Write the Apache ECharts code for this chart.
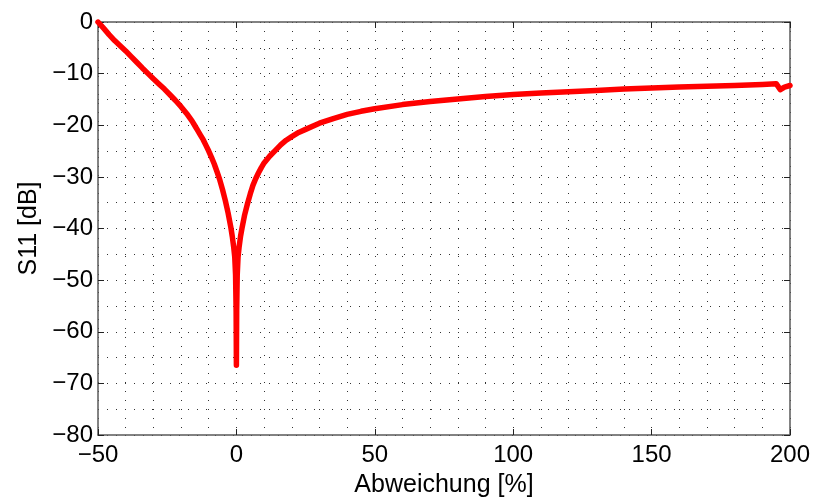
<!DOCTYPE html>
<html>
<head>
<meta charset="utf-8">
<script src="https://cdn.jsdelivr.net/npm/echarts@6/dist/echarts.min.js"></script>
<style>
html,body{margin:0;padding:0;background:#fff;}
#chart{width:814px;height:503px;}
</style>
</head>
<body>
<div id="chart"></div>
<script>
// Data
const abweichung = [-50, -48, -46, -44, -42, -40, -38, -36, -34, -32, -30, -28, -26, -24, -22, -20, -18, -16, -15, -14, -13, -12, -11, -10, -9, -8, -7, -6, -5, -4, -3, -2, -1.5, -1, -0.6, -0.3, -0.1, 0, 0.1, 0.3, 0.6, 1, 1.5, 2, 3, 4, 5, 6, 7, 8, 9, 10, 12, 14, 16, 18, 20, 22.5, 25, 30, 35, 40, 45, 50, 60, 70, 80, 90, 100, 110, 120, 130, 140, 150, 160, 170, 180, 190, 195, 196.5, 198, 200];
const s11 = [0, -1.2, -2.45, -3.6, -4.6, -5.6, -6.7, -7.8, -8.9, -9.95, -11.0, -12.0, -13.0, -14.1, -15.2, -16.4, -17.7, -19.2, -20.1, -21.0, -21.9, -22.8, -23.9, -25.0, -26.2, -27.5, -29.0, -30.6, -32.5, -34.6, -37.0, -39.8, -41.5, -43.5, -45.5, -49, -56, -66.5, -56, -49, -45.5, -43.5, -41.5, -40, -37.3, -35.2, -33.3, -31.6, -30.3, -29.2, -28.2, -27.3, -26.0, -24.9, -23.8, -22.9, -22.2, -21.4, -20.8, -19.6, -18.7, -17.9, -17.3, -16.8, -16.0, -15.4, -14.9, -14.45, -14.05, -13.75, -13.5, -13.25, -13.0, -12.8, -12.6, -12.45, -12.3, -12.1, -11.95, -13.1, -12.6, -12.3];
const xTicks = {min: -50, max: 200, step: 50, minorSplit: 5};
const yTicks = {min: -80, max: 0, step: 10, minorSplit: 2};
const xTitle = 'Abweichung [%]';
const yTitle = 'S11 [dB]';

const FONT = '"Liberation Sans", Arial, sans-serif';
const AXIS_COLOR = '#5a5a5a';
const dotted = {show: true, lineStyle: {color: '#333', width: 1, type: [1, 8]}};
const fmt = v => String(v).replace('-', '\u2212');

const chart = echarts.init(document.getElementById('chart'), null, {renderer: 'canvas'});
const baseX = {
  type: 'value', min: xTicks.min, max: xTicks.max, interval: xTicks.step,
  axisLine: {show: true, onZero: false, lineStyle: {color: AXIS_COLOR, width: 1.5}},
  axisTick: {show: true, inside: true, length: 6, lineStyle: {color: '#222', width: 1}},
  minorTick: {show: false, splitNumber: xTicks.minorSplit},
};
const baseY = {
  type: 'value', min: yTicks.min, max: yTicks.max, interval: yTicks.step,
  axisLine: {show: true, onZero: false, lineStyle: {color: AXIS_COLOR, width: 1.5}},
  axisTick: {show: true, inside: true, length: 6, lineStyle: {color: '#222', width: 1}},
  minorTick: {show: false, splitNumber: yTicks.minorSplit},
};
chart.setOption({
  animation: false,
  backgroundColor: '#fff',
  grid: {left: 98, right: 24, top: 22, bottom: 63, containLabel: false},
  xAxis: [
    Object.assign({}, baseX, {
      position: 'bottom',
      axisLabel: {show: true, color: '#000', fontSize: 24, fontFamily: FONT, margin: 8, formatter: fmt},
      splitLine: dotted, minorSplitLine: dotted,
      name: xTitle, nameLocation: 'middle', nameGap: 38,
      nameTextStyle: {color: '#000', fontSize: 25, fontFamily: FONT}
    }),
    Object.assign({}, baseX, {
      position: 'top', axisLabel: {show: false}, splitLine: {show: false}, minorSplitLine: {show: false}
    })
  ],
  yAxis: [
    Object.assign({}, baseY, {
      position: 'left',
      axisLabel: {show: true, color: '#000', fontSize: 24, fontFamily: FONT, margin: 5, formatter: fmt},
      splitLine: dotted, minorSplitLine: dotted,
      name: yTitle, nameLocation: 'middle', nameGap: 56, nameRotate: 90,
      nameTextStyle: {color: '#000', fontSize: 25, fontFamily: FONT}
    }),
    Object.assign({}, baseY, {
      position: 'right', axisLabel: {show: false}, splitLine: {show: false}, minorSplitLine: {show: false}
    })
  ],
  series: [{
    type: 'line',
    xAxisIndex: 0, yAxisIndex: 0,
    data: abweichung.map((x, i) => [x, s11[i]]),
    showSymbol: false, symbol: 'none',
    lineStyle: {color: '#ff0000', width: 5.5, join: 'round', cap: 'round'},
    z: 5
  }]
});
</script>
</body>
</html>
